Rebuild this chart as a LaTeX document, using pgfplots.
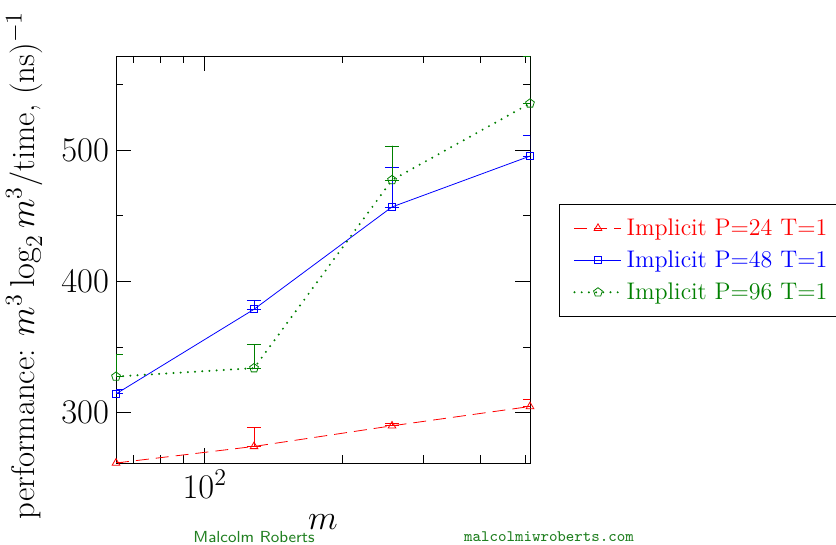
\documentclass[border=0pt]{standalone}
\usepackage{pgfplots}
\pgfplotsset{compat=1.18}
\definecolor{fftgreen}{rgb}{0,0.5,0}
\definecolor{credit}{rgb}{0.13,0.5,0.13}

\begin{document}
\begin{tikzpicture}
\path[use as bounding box] (-58pt,-41pt) rectangle (360pt,231.5pt);
\begin{axis}[
  at={(0,0)}, anchor=south west,
  scale only axis, width=207pt, height=203.5pt,
  xmode=log, log basis x=10,
  xmin=64, xmax=512, ymin=261.8, ymax=571.6,
  xtick={100}, minor xtick={70,80,90,200,300,400,500},
  ytick={300,400,500}, minor ytick={350,450,550},
  major tick length=7.5pt, minor tick length=3.75pt,
  tick style={black, thin},
  tick label style={font=\LARGE},
  xlabel={$m$}, xlabel style={font=\LARGE, yshift=-1.5pt},
  ylabel={performance: $m^3\log_2 m^3$/time, (ns)$^{-1}$},
  ylabel style={font=\fontsize{16.4}{20}\selectfont, inner sep=0pt,
    yshift=6pt, xshift=-3pt},
  legend style={at={(1.070,0.6364)}, anchor=north west, draw=black,
    font=\large, row sep=2.2pt, inner xsep=7pt, inner ysep=5pt},
  legend cell align=left,
  legend image code/.code={\draw[mark repeat=2,mark phase=2,#1]
    plot coordinates {(0pt,0pt) (11.75pt,0pt) (23.5pt,0pt)};},
  error bars/error mark options={rotate=90, mark size=3.6pt},
]
\addplot+[red, dash pattern=on 6.5pt off 3.5pt, mark=triangle, mark size=2.2pt,
  mark options={solid},
  error bars/.cd, y dir=both, y explicit,
  error bar style={solid}]
  coordinates {
  (64,261.8) +- (0,0.5)
  (128,274.4) += (0,14.4) -= (0,0)
  (256,290.1) += (0,1.5) -= (0,0)
  (512,304.8) += (0,5.1) -= (0,0)
};
\addlegendentry{\textcolor{red}{Implicit P=24 T=1}}
\addplot+[blue, solid, mark=square, mark size=1.8pt,
  error bars/.cd, y dir=both, y explicit]
  coordinates {
  (64,314.4) += (0,3.6) -= (0,0)
  (128,378.8) += (0,7.0) -= (0,0)
  (256,456.7) += (0,30.4) -= (0,0)
  (512,495.4) += (0,15.5) -= (0,0)
};
\addlegendentry{\textcolor{blue}{Implicit P=48 T=1}}
\addplot+[fftgreen, line width=1.1pt, line cap=round,
  dash pattern=on 0pt off 3.6pt, mark=pentagon, mark size=2.3pt,
  mark options={solid, line width=0.4pt},
  error bars/.cd, y dir=both, y explicit,
  error bar style={solid, line width=0.4pt}]
  coordinates {
  (64,327.6) += (0,16.5) -= (0,0)
  (128,334.0) += (0,17.7) -= (0,0)
  (256,477.2) += (0,25.8) -= (0,0)
  (512,535.5) += (0,36.1) -= (0,0)
};
\addlegendentry{\textcolor{fftgreen}{Implicit P=96 T=1}}
\end{axis}
\node[credit, font=\sffamily\footnotesize] at (69pt,-37pt) {Malcolm Roberts};
\node[credit, font=\ttfamily\footnotesize] at (216.5pt,-37pt) {malcolmiwroberts.com};
\end{tikzpicture}
\end{document}
